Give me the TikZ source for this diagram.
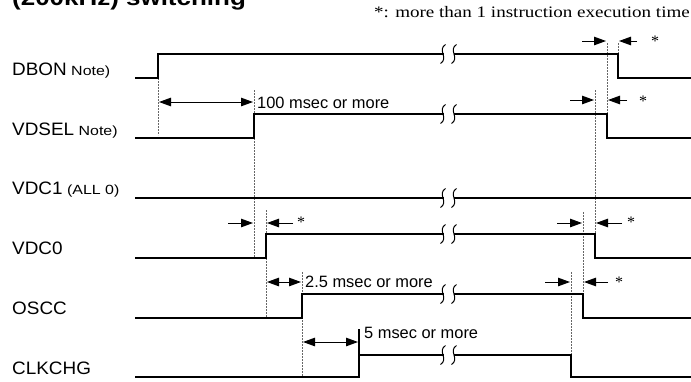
\documentclass[tikz,border=0pt]{standalone}
\usepackage{fontspec}
\setmainfont{Liberation Sans}
\newfontfamily\serifface{Liberation Serif}
\usetikzlibrary{arrows.meta}
\newcommand\sigbreak[1]{%
  \fill[white] (443.5,#1-2.5) rectangle (453.5,#1+2.5);
  \foreach \bx in {443,454}{\draw[brk] (\bx+2.5,#1-9.5) .. controls (\bx-6,#1-4) and (\bx+6,#1+4) .. (\bx-2.5,#1+9.5);}
}
\newcommand\signame[1]{\scalebox{1.05}[1]{\fontsize{18}{20}\selectfont #1}}
\newcommand\signote[1]{\scalebox{1.2}[1]{\fontsize{13.3}{15}\selectfont #1}}
\begin{document}
\begin{tikzpicture}[x=1pt,y=-1pt,
  sig/.style={line width=1.25pt, line join=miter},
  brk/.style={line width=1pt},
  dotl/.style={black!60, line width=1pt, dash pattern=on 1.6pt off 1.4pt},
  arr/.style={line width=1pt, -{Triangle[length=12pt,width=8.5pt]}},
  dbl/.style={line width=1pt, {Triangle[length=12pt,width=8.5pt]}-{Triangle[length=12pt,width=8.5pt]}},
  lbl/.style={anchor=base west, inner sep=0pt, font=\fontsize{16.4}{18}\selectfont},
  nm/.style={anchor=base west, inner sep=0pt},
  ast/.style={anchor=base west, inner sep=0pt, font=\serifface\fontsize{16}{18}\selectfont}
]
\useasboundingbox (0,0) rectangle (691,381);
\clip (0,0) rectangle (691,381);
\def\TA{158}\def\TB{254}\def\TC{266}\def\TD{302}\def\TE{359}
\def\TF{571}\def\TG{583}\def\TH{595}\def\TI{607}\def\TJ{618}

% title and note
\node[anchor=base west, inner sep=0pt] (title) at (12,5) {\scalebox{1.18}[1]{\bfseries\fontsize{22}{24}\selectfont (200kHz) switching}};
\node[anchor=base east, inner sep=0pt] (note) at (690,17) {\scalebox{1.19}[1]{\serifface\fontsize{16}{18}\selectfont *: more than 1 instruction execution time}};

% signal names
\node[nm] (nDBON) at (12,75) {\signame{DBON}\signote{\ Note)}};
\node[nm] (nVDSEL) at (12,135) {\signame{VDSEL}\signote{\ Note)}};
\node[nm] (nVDC1) at (12,194) {\signame{VDC1}\signote{\ (ALL 0)}};
\node[nm] (nVDC0) at (12,254) {\signame{VDC0}};
\node[nm] (nOSCC) at (12,314) {\signame{OSCC}};
\node[nm] (nCLK) at (12,374) {\signame{CLKCHG}};

% dotted guide lines
\draw[dotl] (\TA,78) -- (\TA,135);
\draw[dotl] (\TB,90) -- (\TB,258);
\draw[dotl] (\TC,210) -- (\TC,318);
\draw[dotl] (\TD,272) -- (\TD,377);
\draw[dotl] (\TI,43) -- (\TI,114);
\draw[dotl] (\TJ,43) -- (\TJ,54);
\draw[dotl] (\TH,90) -- (\TH,234);
\draw[dotl] (\TG,212) -- (\TG,294);
\draw[dotl] (\TF,272) -- (\TF,355);

% waveforms
\draw[sig] (135,78) -- (\TA,78) -- (\TA,54) -- (\TJ,54) -- (\TJ,78) -- (691,78);
\sigbreak{54}
\draw[sig] (135,138) -- (\TB,138) -- (\TB,114) -- (\TI,114) -- (\TI,138) -- (691,138);
\sigbreak{114}
\draw[sig] (135,198) -- (691,198);
\sigbreak{198}
\draw[sig] (135,258) -- (\TC,258) -- (\TC,234) -- (\TH,234) -- (\TH,258) -- (691,258);
\sigbreak{234}
\draw[sig] (135,318) -- (\TD,318) -- (\TD,294) -- (\TG,294) -- (\TG,318) -- (691,318);
\sigbreak{294}
\draw[sig] (135,377) -- (\TE,377) -- (\TE,329);
\draw[sig] (\TE,355) -- (\TF,355) -- (\TF,377) -- (691,377);
\sigbreak{355}

% timing arrows
\draw[dbl] (\TA+1,102) -- (\TB-1,102);
\node[lbl] (l100) at (257,108) {100 msec or more};
\draw[dbl] (\TC+1,282) -- (\TD-1,282);
\node[lbl] (l25) at (305,287) {2.5 msec or more};
\draw[dbl] (\TD+1,342) -- (\TE-1,342);
\node[lbl] (l5) at (364,338) {5 msec or more};

% * arrows
\draw[arr] (582,41) -- (\TI-1,41);
\draw[arr] (637,41) -- (\TJ+1,41);
\node[ast] (s1) at (651,46) {*};
\draw[arr] (570,100) -- (\TH-1,100);
\draw[arr] (627,100) -- (\TI+1,100);
\node[ast] (s2) at (639,106) {*};
\draw[arr] (228,223) -- (\TB-1,223);
\draw[arr] (293,223) -- (\TC+1,223);
\node[ast] (s3) at (297,227) {*};
\draw[arr] (557,223) -- (\TG-1,223);
\draw[arr] (622,223) -- (\TH+1,223);
\node[ast] (s4) at (627,227) {*};
\draw[arr] (545,282) -- (\TF-1,282);
\draw[arr] (608,282) -- (\TG+1,282);
\node[ast] (s5) at (615,287) {*};
\end{tikzpicture}
\end{document}
